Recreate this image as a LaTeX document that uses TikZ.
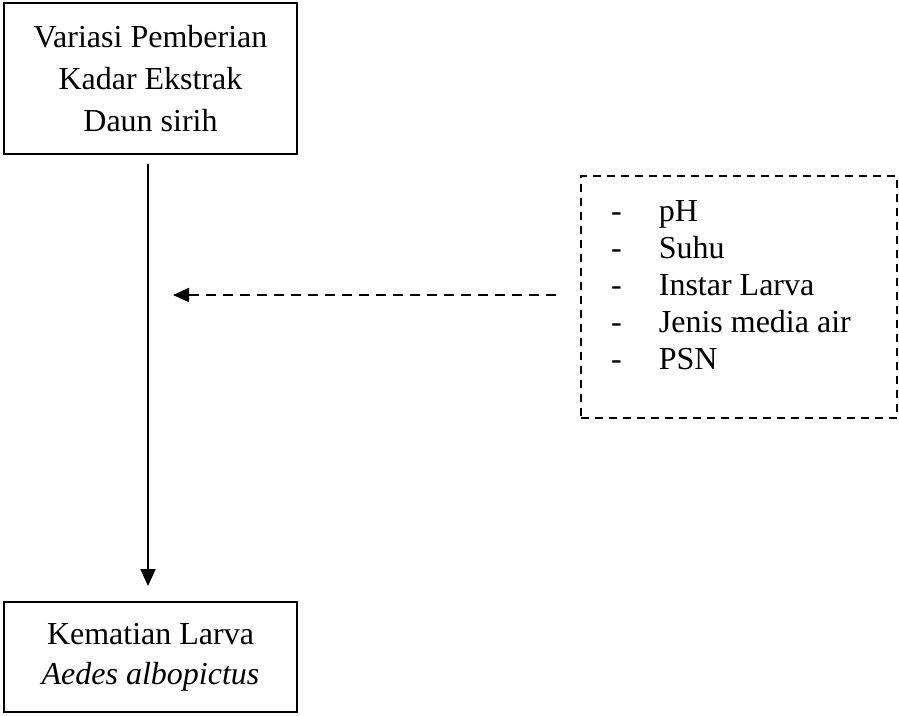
\documentclass[tikz,border=0pt]{standalone}
\usepackage{fontspec}
\setmainfont{Liberation Serif}
\usetikzlibrary{arrows.meta}
\begin{document}
\begin{tikzpicture}[x=1pt,y=1pt,
  solidbox/.style={draw,line width=2pt,align=center,inner sep=0pt},
  dashbox/.style={draw,line width=2pt,dash pattern=on 8pt off 6pt,inner sep=0pt},
  mainarrow/.style={line width=2pt,-{Triangle[length=17pt,width=15pt]}},
  dasharrow/.style={line width=2pt,dash pattern=on 10pt off 7pt,-{Triangle[length=16pt,width=14pt]}}]
\useasboundingbox (0,0) rectangle (899,-715);
\node[solidbox,minimum width=293pt,minimum height=151pt,font=\fontsize{32}{42}\selectfont] (top) at (150.5,-78.5)
  {Variasi Pemberian\\Kadar Ekstrak\\Daun sirih};
\node[solidbox,minimum width=293pt,minimum height=110pt,font=\fontsize{32}{40}\selectfont] (bot) at (150.5,-657)
  {Kematian Larva\\\textit{Aedes albopictus}};
\node[dashbox,minimum width=316pt,minimum height=242pt] (dbox) at (739,-297) {};
\node[anchor=west,inner sep=0pt,font=\fontsize{32}{37}\selectfont] (list) at (611,-288)
  {\begin{tabular}{@{}l@{\hspace{37pt}}l@{}}
  -&pH\\ -&Suhu\\ -&Instar Larva\\ -&Jenis media air\\ -&PSN
  \end{tabular}};
\coordinate (target) at (173,-295);
\draw[mainarrow] ([xshift=-2.5pt,yshift=-9pt]top.south) -- ([xshift=-2.5pt,yshift=15pt]bot.north);
\draw[dasharrow] ([xshift=-24pt,yshift=2pt]dbox.west) -- (target);
\end{tikzpicture}
\end{document}
